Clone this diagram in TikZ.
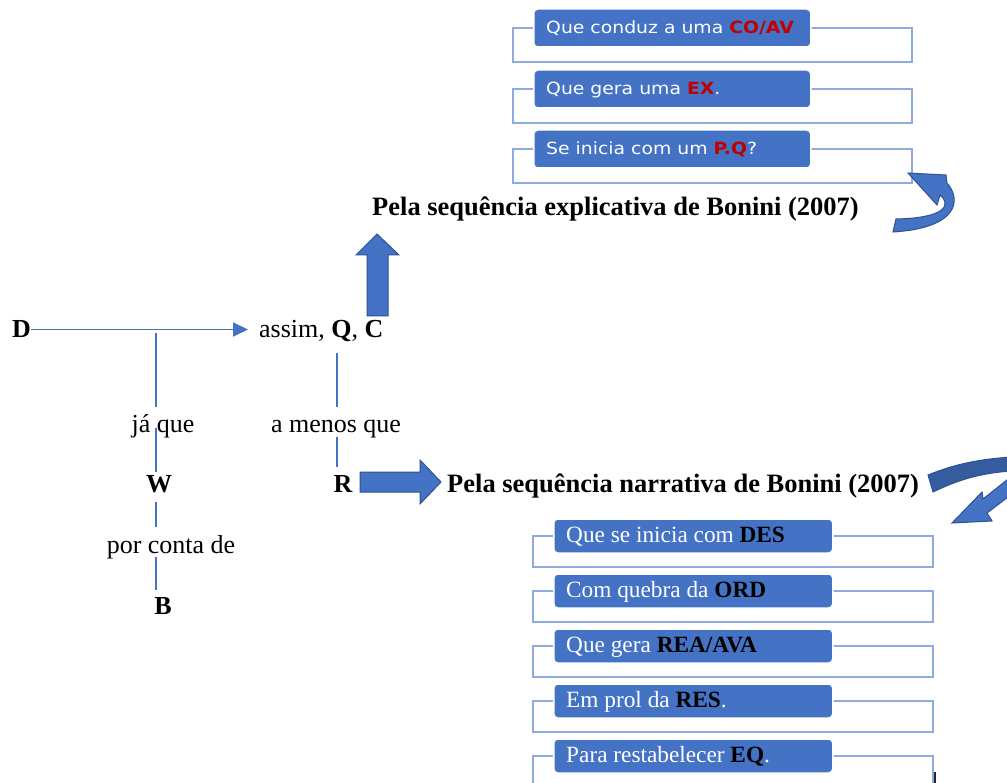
\documentclass[tikz,border=0pt]{standalone}
\usepackage{fontspec}
\setmainfont{Liberation Serif}
\newfontfamily\listsans[FakeStretch=1.12]{DejaVu Sans}
\usetikzlibrary{arrows.meta,calc}
\definecolor{mblue}{HTML}{4472C4}
\definecolor{dblue}{HTML}{2F528F}
\definecolor{lblue}{HTML}{8FAADC}
\definecolor{mred}{HTML}{C00000}
\tikzset{
  lbl/.style={font=\fontsize{26}{30}\selectfont, inner sep=0pt, anchor=base},
  ttl/.style={font=\fontsize{26.5}{30}\selectfont\bfseries, inner sep=0pt, anchor=base west},
  conn/.style={draw=mblue, line width=1.3pt},
  blockarrow/.style={fill=mblue, draw=dblue, line width=1pt},
  bracket/.style={draw=lblue, line width=1.6pt},
  itembox/.style={fill=mblue, draw=white, line width=1.5pt, rounded corners=4pt, inner sep=0pt, anchor=west},
  toptext/.style={text=white, font=\listsans\fontsize{16.8}{18}\selectfont, anchor=base west, inner sep=0pt},
  bottext/.style={text=white, font=\fontsize{23.3}{26}\selectfont, anchor=base west, inner sep=0pt},
}
\begin{document}
\begin{tikzpicture}[x=1pt,y=-1pt]
\useasboundingbox (0,0) rectangle (1007,783);
\fill[white] (0,0) rectangle (1007,783);
\clip (0,0) rectangle (1007,783);

% ---------- Toulmin scheme ----------
\node[lbl, anchor=base west] (D) at (12,338) {\textbf{D}};
\node[lbl, anchor=base west] (assim) at (259,338) {assim, \textbf{Q}, \textbf{C}};
\node[lbl] (jaque) at (163,432) {já que};
\node[lbl] (W) at (159,492) {\textbf{W}};
\node[lbl] (porconta) at (171,553) {por conta de};
\node[lbl] (B) at (163,614) {\textbf{B}};
\node[lbl] (amenos) at (336,432) {a menos que};
\node[lbl] (R) at (343,492) {\textbf{R}};

\coordinate (dj) at (156,333);
\coordinate (qr) at (337,353);

\draw[conn, line width=1.9pt, -{Triangle[length=15pt,width=14pt]}, shorten >=11pt] (D.east) -- (D.east -| assim.west);

\draw[conn] (dj) -- ($(dj |- jaque.north)+(0,-7)$);
\draw[conn] ($(dj |- jaque.base)+(0,-4)$) -- ($(dj |- W.north)+(0,-3)$);
\draw[conn] ($(dj |- W.base)+(0,10)$) -- ($(dj |- porconta.north)+(0,-8)$);
\draw[conn] ($(dj |- porconta.base)+(0,4)$) -- ($(dj |- B.north)+(0,-7)$);

\draw[conn] (qr) -- ($(qr |- amenos.north)+(0,-12)$);
\draw[conn] ($(qr |- amenos.base)+(0,5)$) -- ($(qr |- R.north)+(0,-8)$);

% block arrows
\draw[blockarrow] (367,316) -- (367,255) -- (356,255) -- (377,234) -- (399,255) -- (388,255) -- (388,316) -- cycle;
\draw[blockarrow] (360,472) -- (420,472) -- (420,460) -- (441,482) -- (420,504) -- (420,492) -- (360,492) -- cycle;

% titles
\node[ttl] (expl) at (372,216) {Pela sequência explicativa de Bonini (2007)};
\node[ttl] (narr) at (447,492) {Pela sequência narrativa de Bonini (2007)};

% ---------- top list ----------
\foreach \c/\n in {28/t1,89/t2,149/t3}{
  \draw[bracket] (513,\c) rectangle (912,\c+34);
  \node[itembox, minimum width=277pt, minimum height=38pt] (\n) at (533,\c) {};
}
\node[toptext] (t1txt) at (546,34) {Que conduz a uma \textcolor{mred}{\bfseries CO/AV}};
\node[toptext] (t2txt) at (546,95) {Que gera uma \textcolor{mred}{\bfseries EX}.};
\node[toptext] (t3txt) at (546,155) {Se inicia com um \textcolor{mred}{\bfseries P.Q}?};

% curved arrow (top)
\draw[fill=mblue, draw=dblue, line width=1pt]
  (908,173) -- (946,175) -- (947,183)
  .. controls (962,200) and (958,228) .. (893,232)
  -- (896,219)
  .. controls (945,218) and (952,205) .. (940,195)
  -- (937,205) -- cycle;

% ---------- bottom list ----------
\foreach \c/\n in {536/b1,591/b2,646/b3,701/b4,756/b5}{
  \draw[bracket] (533,\c) rectangle (933,\c+31);
  \node[itembox, minimum width=279pt, minimum height=34pt] (\n) at (553,\c) {};
}
\node[bottext] (b1txt) at (566,542) {Que se inicia com \textcolor{black}{\bfseries DES}};
\node[bottext] (b2txt) at (566,597) {Com quebra da \textcolor{black}{\bfseries ORD}};
\node[bottext] (b3txt) at (566,652) {Que gera \textcolor{black}{\bfseries REA/AVA}};
\node[bottext] (b4txt) at (566,707) {Em prol da \textcolor{black}{\bfseries RES}.};
\node[bottext] (b5txt) at (566,762) {Para restabelecer \textcolor{black}{\bfseries EQ}.};
\draw[line width=2pt, black!85] (935,772) -- (935,790);

% curved arrow (bottom right)
\draw[fill=dblue!70!mblue, draw=dblue, line width=1pt]
  (928,475) .. controls (955,464) and (980,459) .. (1012,457)
  -- (1012,471) .. controls (980,473) and (958,480) .. (933,492) -- cycle;
\draw[fill=mblue, draw=dblue, line width=1pt]
  (952,523) -- (982,492) -- (983,499) -- (1012,476) -- (1012,494)
  -- (987,513) -- (992,521) -- cycle;
\end{tikzpicture}
\end{document}
